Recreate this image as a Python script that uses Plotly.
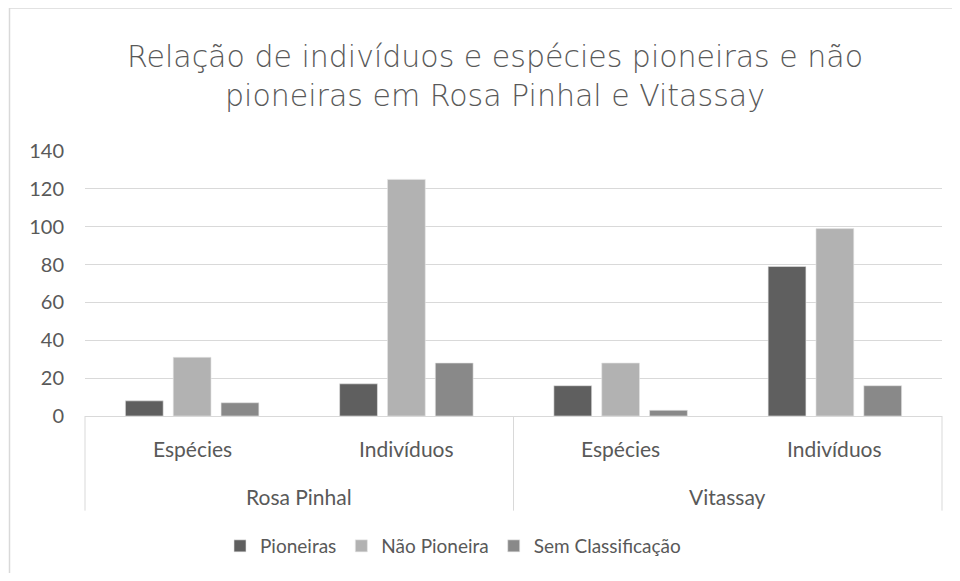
import plotly.graph_objects as go

sites = ["Rosa Pinhal", "Rosa Pinhal", "Vitassay", "Vitassay"]
measures = ["Espécies", "Indivíduos", "Espécies", "Indivíduos"]
pioneiras = [8, 17, 16, 79]
nao_pioneira = [31, 125, 28, 99]
sem_classificacao = [7, 28, 3, 16]

series_names = ["Pioneiras", "Não Pioneira", "Sem Classificação"]
colors = ["#5f5f5f", "#b2b2b2", "#898989"]
title_text = "Relação de indivíduos e espécies pioneiras e não<br>pioneiras em Rosa Pinhal e Vitassay"

FONT = "Lato"
TXT = "#595959"
GRID = "#d9d9d9"

fig = go.Figure()
for name, vals, col in zip(series_names, [pioneiras, nao_pioneira, sem_classificacao], colors):
    fig.add_trace(go.Bar(
        x=[sites, measures], y=vals, name=name,
        marker=dict(color=col, line=dict(color="#e6e6e6", width=0.6)),
    ))

# page body has an 8px margin; figure sized to fit the 960x581 window
W, H = 944, 565
L, R, T, B = 77, 10, 143, 156
pw = W - L - R
ph = H - T - B

n = len(measures)
annotations = []
# inner category labels
for i, m in enumerate(measures):
    annotations.append(dict(
        text=m, xref="paper", yref="paper", x=(i + 0.5) / n, y=0,
        xanchor="center", yanchor="middle", yshift=-32, showarrow=False,
        font=dict(family=FONT, size=21, color=TXT),
    ))
# outer group labels
groups = []
for s in sites:
    if s not in groups:
        groups.append(s)
for g in groups:
    idx = [i for i, s in enumerate(sites) if s == g]
    cx = (min(idx) + max(idx) + 1) / 2 / n
    annotations.append(dict(
        text=g, xref="paper", yref="paper", x=cx, y=0,
        xanchor="center", yanchor="middle", yshift=-80, showarrow=False,
        font=dict(family=FONT, size=21, color=TXT),
    ))

shapes = []
# group dividers
bounds = [0]
for i in range(1, n):
    if sites[i] != sites[i - 1]:
        bounds.append(i)
bounds.append(n)
for b in bounds:
    shapes.append(dict(
        type="line", xref="paper", yref="paper", x0=b / n, x1=b / n,
        y0=0, y1=-95 / ph, line=dict(color=GRID, width=1),
    ))
# chart border
shapes.append(dict(
    type="rect", xref="paper", yref="paper",
    x0=(1.5 - L) / pw, x1=(W + 20 - L) / pw,
    y0=-(H + 20 - (T + ph)) / ph, y1=((T + ph) + 0.5) / ph,
    line=dict(color=GRID, width=1.5), fillcolor="rgba(0,0,0,0)", layer="below",
))

fig.update_layout(
    width=W, height=H,
    margin=dict(l=L, r=R, t=T, b=B),
    paper_bgcolor="white", plot_bgcolor="white",
    barmode="group", bargap=0.33, bargroupgap=0.21,
    font=dict(family=FONT, color=TXT, size=20),
    title=dict(
        text=title_text,
        x=487 / W, xref="container", xanchor="center", y=1 - 59 / H, yanchor="middle",
        font=dict(family="DejaVu Sans", size=30, color=TXT, weight=200),
    ),
    legend=dict(
        orientation="h", x=(445 - L) / pw, xanchor="center",
        y=-(538 - (T + ph)) / ph, yanchor="middle",
        font=dict(family=FONT, size=19, color=TXT), traceorder="normal",
    ),
    yaxis=dict(
        range=[0, 140], dtick=20, showgrid=True, gridcolor=GRID, gridwidth=1,
        zeroline=False, showline=False, ticks="", tickfont=dict(size=20, color=TXT),
        ticklabelstandoff=20,
    ),
    xaxis=dict(
        type="multicategory", showline=True, linecolor=GRID, linewidth=1,
        showdividers=False, showticklabels=False, ticks="",
    ),
    annotations=annotations,
    shapes=shapes,
)

fig.write_html("out.html")
